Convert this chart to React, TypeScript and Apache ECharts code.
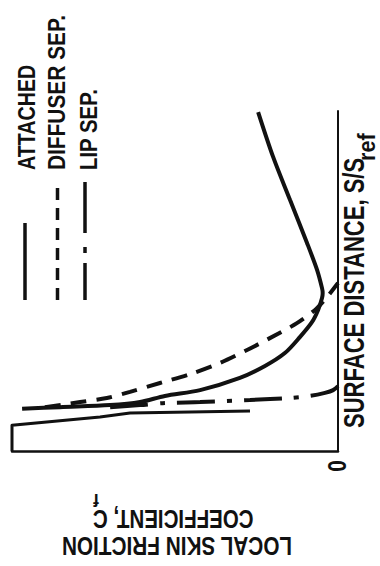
import React, { useEffect, useRef } from "react";
import * as echarts from "echarts";

// ---- Data (Cf = local skin friction, S = surface distance S/Sref, both normalised) ----
const seriesNames = ["ATTACHED", "DIFFUSER SEP.", "LIP SEP."];

const attachedCf = [0.969, 0.853, 0.699, 0.607, 0.531, 0.423, 0.301, 0.224, 0.163, 0.117, 0.08, 0.061, 0.049, 0.047, 0.049, 0.064, 0.095, 0.147, 0.199, 0.245];
const attachedS = [0.124, 0.129, 0.135, 0.144, 0.162, 0.179, 0.215, 0.25, 0.288, 0.335, 0.379, 0.415, 0.45, 0.465, 0.479, 0.532, 0.612, 0.738, 0.865, 0.997];

const diffuserCf = [0.899, 0.791, 0.709, 0.638, 0.546, 0.454, 0.362, 0.279, 0.209, 0.126, 0.067, 0.031, 0.0];
const diffuserS = [0.129, 0.144, 0.156, 0.174, 0.2, 0.226, 0.259, 0.297, 0.332, 0.376, 0.418, 0.456, 0.494];

const lipSepCf = [0.699, 0.607, 0.531, 0.423, 0.27, 0.147, 0.086, 0.04, 0.015, 0.0];
const lipSepS = [0.129, 0.135, 0.141, 0.144, 0.15, 0.156, 0.162, 0.171, 0.179, 0.191];

// outline of the lip (inlet wall) sketched at the start of the surface
const lipOutlineCf = [1.0, 1.0, 0.73, 0.638, 0.27];
const lipOutlineS = [0.0, 0.076, 0.1, 0.112, 0.118];

const sAxisTitle = "SURFACE DISTANCE, S/S";
const sAxisTitleSub = "ref";
const cfTitleLine1 = "LOCAL SKIN FRICTION";
const cfTitleLine2 = "COEFFICIENT, C";
const cfTitleSub = "f";
const zeroLabel = "0";

const pairs = (a: number[], b: number[]) => a.map((v, i) => [v, b[i]]);

const FONT = "Liberation Sans";
const INK = "#111";

export default function App() {
  const ref = useRef<HTMLDivElement>(null);
  useEffect(() => {
    if (!ref.current) return;
    const chart = echarts.init(ref.current, undefined, { renderer: "svg" });
    const rotText = (
      text: string,
      x: number,
      y: number,
      rotation: number,
      fontSize: number,
      scaleX: number,
      align: string
    ) => ({
      type: "text",
      x,
      y,
      rotation,
      scaleX,
      silent: true,
      style: {
        text,
        fontFamily: FONT,
        fontWeight: "bold",
        fontSize,
        fill: INK,
        textAlign: align,
        textVerticalAlign: "middle",
        verticalAlign: "middle",
      },
    });
    const vline = (x: number, y1: number, y2: number, dash?: number[]) => ({
      type: "line",
      silent: true,
      shape: { x1: x, y1, x2: x, y2 },
      style: { stroke: INK, lineWidth: 3.5, lineDash: dash, lineCap: "butt" },
    });
    const option: any = {
      animation: false,
      backgroundColor: "#fff",
      grid: { left: 12, right: 42, top: 111, bottom: 115, containLabel: false },
      xAxis: {
        type: "value",
        min: 0,
        max: 1,
        inverse: true,
        axisLine: { show: true, onZero: false, lineStyle: { color: INK, width: 2.5 } },
        axisTick: { show: false },
        axisLabel: { show: false },
        splitLine: { show: false },
      },
      yAxis: {
        type: "value",
        min: 0,
        max: 1,
        position: "right",
        axisLine: { show: true, onZero: false, lineStyle: { color: INK, width: 2 } },
        axisTick: { show: false },
        axisLabel: { show: false },
        splitLine: { show: false },
      },
      series: [
        {
          name: seriesNames[0],
          type: "line",
          data: pairs(attachedCf, attachedS),
          showSymbol: false,
          smooth: 0.3,
          clip: false,
          lineStyle: { color: INK, width: 4, type: "solid" },
        },
        {
          name: seriesNames[1],
          type: "line",
          data: pairs(diffuserCf, diffuserS),
          showSymbol: false,
          smooth: 0.3,
          clip: false,
          lineStyle: { color: INK, width: 4, type: [16, 10] },
        },
        {
          name: seriesNames[2],
          type: "line",
          data: pairs(lipSepCf, lipSepS),
          showSymbol: false,
          smooth: 0.3,
          clip: false,
          lineStyle: { color: INK, width: 4, type: [38, 12, 5, 12] },
        },
        {
          name: "lip",
          type: "line",
          data: pairs(lipOutlineCf, lipOutlineS),
          showSymbol: false,
          smooth: false,
          clip: false,
          lineStyle: { color: INK, width: 3, type: "solid", join: "round" },
        },
      ],
      graphic: [
        // legend swatches
        vline(25, 300, 223),
        vline(57.5, 300, 182, [12, 8]),
        vline(85, 300, 263),
        vline(85, 253, 247),
        vline(85, 233, 182),
        // legend texts
        rotText(seriesNames[0], 26.5, 170, Math.PI / 2, 24, 0.82, "left"),
        rotText(seriesNames[1], 56.5, 170, Math.PI / 2, 24, 0.87, "left"),
        rotText(seriesNames[2], 89, 170, Math.PI / 2, 24, 0.85, "left"),
        // S axis title
        rotText(sAxisTitle, 354, 428, Math.PI / 2, 29, 0.76, "left"),
        rotText(sAxisTitleSub, 367, 161, Math.PI / 2, 24, 0.9, "left"),
        // zero
        rotText(zeroLabel, 337.5, 466, Math.PI / 2, 26, 0.8, "center"),
        // Cf title (upside down)
        rotText(cfTitleLine1, 177, 546, Math.PI, 25, 0.83, "center"),
        rotText(cfTitleLine2, 93, 519, Math.PI, 25, 0.82, "right"),
        rotText(cfTitleSub, 99, 500, Math.PI, 19, 0.9, "left"),
      ],
    };
    chart.setOption(option);
    return () => chart.dispose();
  }, []);
  return (
    <div
      ref={ref}
      style={{ position: "fixed", left: 0, top: 0, width: 380, height: 566, background: "#fff" }}
    />
  );
}
